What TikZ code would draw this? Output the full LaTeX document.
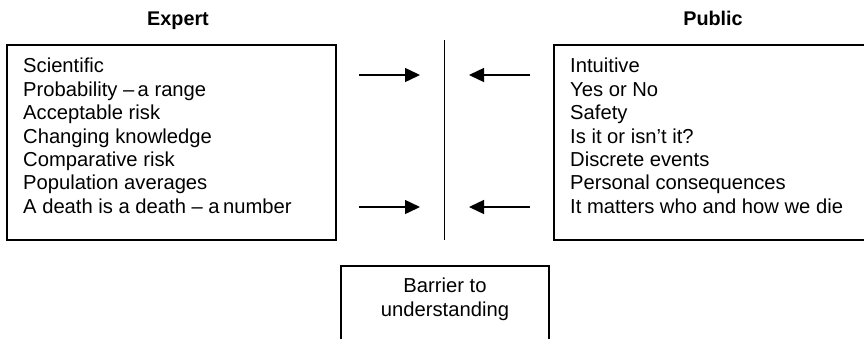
\documentclass[tikz,border=0pt]{standalone}
\usepackage{fontspec}
\setmainfont{Liberation Sans}
\usetikzlibrary{arrows.meta}
\begin{document}
\begin{tikzpicture}[x=1pt,y=-1pt,
  txt/.style={font=\fontsize{20.2}{23.4}\selectfont},
  panel/.style={draw,line width=1.4pt},
  heading/.style={font=\fontsize{19.8}{22}\selectfont\bfseries,anchor=base},
  list/.style={txt,align=left,anchor=north west,inner sep=0pt},
  push/.style={line width=1.4pt,-{Triangle[length=15pt,width=14pt]}}]
\useasboundingbox (0,0) rectangle (864,338);
\clip (0,0) rectangle (864,338);

% column headings
\node[heading] (hexp) at (178,25.5) {Expert};
\node[heading] (hpub) at (713,25.5) {Public};

% the two panels
\draw[panel] (7,45) rectangle (336,240);
\draw[panel] (554,45) rectangle (870,240);

\node[list] (exp) at (23,58) {Scientific\\
Probability --\,a range\\
Acceptable risk\\
Changing knowledge\\
Comparative risk\\
Population averages\\
A death is a death -- a\,number};

\node[list] (pub) at (570,58) {Intuitive\\
Yes or No\\
Safety\\
Is it or isn’t it?\\
Discrete events\\
Personal consequences\\
It matters who and how we die};

% the dividing line
\coordinate (bt) at (444.5,40);
\coordinate (bb) at (444.5,240);
\draw[line width=1.4pt] (bt) -- (bb);

% arrows pushing towards the line
\coordinate (la1) at (359,75);  \coordinate (lb1) at (420,75);
\coordinate (la2) at (359,207); \coordinate (lb2) at (420,207);
\coordinate (ra1) at (530,75);  \coordinate (rb1) at (469,75);
\coordinate (ra2) at (530,207); \coordinate (rb2) at (469,207);
\draw[push] (la1) -- (lb1);
\draw[push] (la2) -- (lb2);
\draw[push] (ra1) -- (rb1);
\draw[push] (ra2) -- (rb2);

% label box below the line
\draw[panel] (341,266) rectangle (549,345);
\node[font=\fontsize{20.2}{24}\selectfont,align=center,inner sep=0pt,anchor=north] (bar) at (445,278) {Barrier to\\understanding};
\end{tikzpicture}
\end{document}
